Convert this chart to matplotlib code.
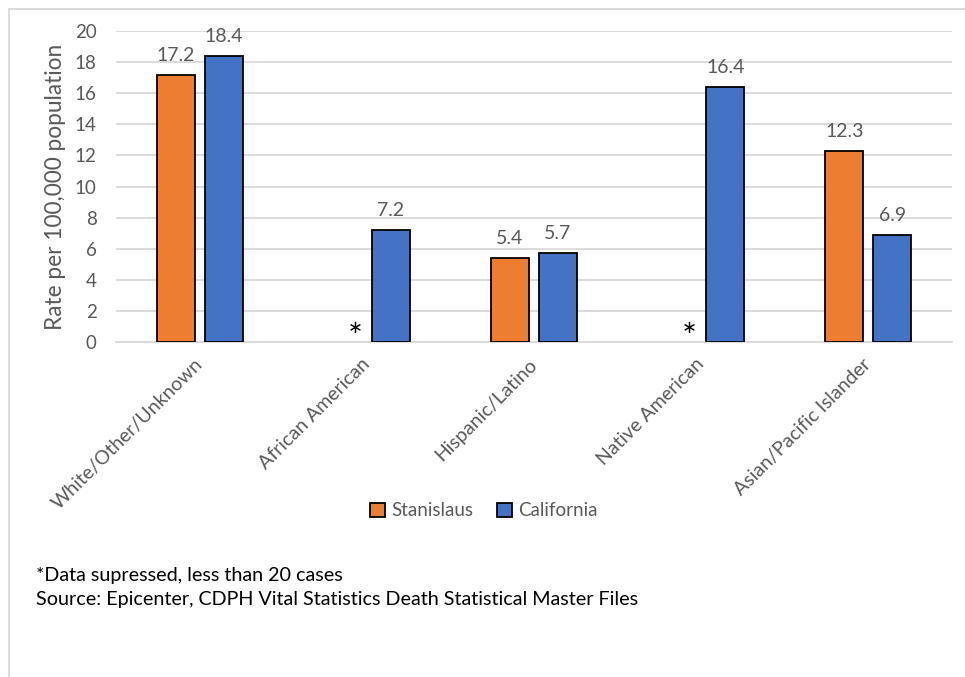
import matplotlib
matplotlib.use("Agg")
import matplotlib.pyplot as plt
from matplotlib.lines import Line2D
import numpy as np

categories = ["White/Other/Unknown", "African American", "Hispanic/Latino",
              "Native American", "Asian/Pacific Islander"]
stanislaus = [17.2, None, 5.4, None, 12.3]
california = [18.4, 7.2, 5.7, 16.4, 6.9]
series_names = ["Stanislaus", "California"]
yticks = [0, 2, 4, 6, 8, 10, 12, 14, 16, 18, 20]
footnotes = ["*Data supressed, less than 20 cases",
             "Source: Epicenter, CDPH Vital Statistics Death Statistical Master Files"]

plt.rcParams['font.family'] = ['Lato', 'DejaVu Sans']

W, H = 965, 677
fig = plt.figure(figsize=(W/100, H/100), dpi=100)
ax = fig.add_axes([116/W, 1-342/H, (952-116)/W, (342-31)/H])

orange = "#ED7D31"
blue = "#4472C4"
gray_txt = "#595959"
grid_c = "#D9D9D9"

x = np.arange(len(categories))
off = 0.1435
bw = 0.227

for i, v in enumerate(stanislaus):
    if v is None:
        ax.text(i - 0.07, 0.9, "\u2217", ha="center", va="center", fontsize=13,
                color="black", family="DejaVu Sans")
    else:
        ax.bar(i - off, v, bw, color=orange, edgecolor="black", linewidth=1.3, zorder=3)
        ax.text(i - off, v + 0.7, f"{v}", ha="center", va="bottom", fontsize=14, color=gray_txt)
for i, v in enumerate(california):
    ax.bar(i + off, v, bw, color=blue, edgecolor="black", linewidth=1.3, zorder=3)
    ax.text(i + off, v + 0.7, f"{v}", ha="center", va="bottom", fontsize=14, color=gray_txt)

ax.set_xlim(-0.5, len(categories) - 0.5)
ax.set_ylim(0, 20)
ax.set_yticks(yticks)
ax.set_yticklabels([str(t) for t in yticks], fontsize=13.5, color=gray_txt)
ax.set_xticks(x)
ax.set_xticklabels(categories, rotation=45, ha="right", va="center", rotation_mode="anchor",
                   fontsize=14, color=gray_txt)
ax.tick_params(axis="both", length=0)
ax.tick_params(axis="y", pad=14)
ax.tick_params(axis="x", pad=14)
for s in ["top", "right", "left"]:
    ax.spines[s].set_visible(False)
ax.spines["bottom"].set_color(grid_c)
ax.spines["bottom"].set_linewidth(1.3)
ax.grid(axis="y", color=grid_c, linewidth=1.3, zorder=0)
ax.set_axisbelow(True)
ax.set_ylabel("Rate per 100,000 population", fontsize=16.3, color=gray_txt, labelpad=6)

handles = [plt.Rectangle((0, 0), 1, 1, facecolor=orange, edgecolor="black", linewidth=1.3),
           plt.Rectangle((0, 0), 1, 1, facecolor=blue, edgecolor="black", linewidth=1.3)]
leg = fig.legend(handles, series_names, loc="center", bbox_to_anchor=(484/W, 1-511/H),
                 ncol=2, frameon=False, fontsize=13.5, handlelength=0.8, handleheight=0.8,
                 handletextpad=0.3, columnspacing=1.3)
for t in leg.get_texts():
    t.set_color(gray_txt)

fig.text(36/W, 1-575/H, footnotes[0], fontsize=14.2, color="black", va="center", ha="left")
fig.text(36/W, 1-600/H, footnotes[1], fontsize=14.2, color="black", va="center", ha="left")

fig.add_artist(Line2D([8.5/W, 8.5/W], [0, 1-8.5/H], color=grid_c, linewidth=1.3))
fig.add_artist(Line2D([8.5/W, 1], [1-8.5/H, 1-8.5/H], color=grid_c, linewidth=1.3))

fig.savefig("out.png", dpi=100)
